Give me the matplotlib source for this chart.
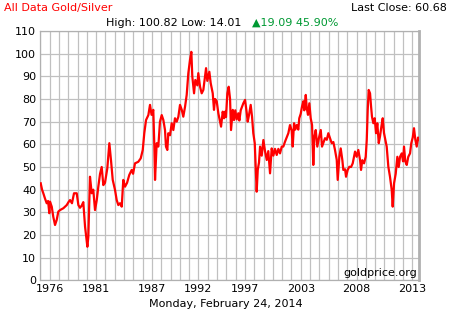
import numpy as np
import matplotlib
matplotlib.use("Agg")
import matplotlib.pyplot as plt

# gold/silver ratio (decimal year, ratio)
years = [
    1975.04, 1975.18, 1975.31, 1975.49, 1975.66, 1975.80, 1975.93, 1976.00, 1976.18, 1976.34,
    1976.52, 1976.69, 1976.86, 1977.04, 1977.38, 1977.73, 1977.91, 1978.07, 1978.27, 1978.48,
    1978.76, 1978.93, 1979.10, 1979.28, 1979.44, 1979.62, 1979.86, 1979.96, 1980.13, 1980.31,
    1980.47, 1980.65, 1980.83, 1980.99, 1981.17, 1981.34, 1981.51, 1981.68, 1981.92, 1982.13,
    1982.30, 1982.48, 1982.72, 1982.89, 1983.06, 1983.23, 1983.41, 1983.57, 1983.75, 1983.96,
    1984.19, 1984.44, 1984.58, 1984.78, 1985.12, 1985.37, 1985.58, 1985.74, 1985.92, 1986.16,
    1986.33, 1986.49, 1986.67, 1986.78, 1986.85, 1987.02, 1987.19, 1987.36, 1987.54, 1987.71,
    1987.88, 1987.98, 1988.12, 1988.22, 1988.40, 1988.57, 1988.74, 1988.91, 1989.09, 1989.26,
    1989.43, 1989.61, 1989.77, 1989.95, 1990.12, 1990.29, 1990.46, 1990.60, 1990.70, 1990.88,
    1991.01, 1991.22, 1991.32, 1991.50, 1991.67, 1991.84, 1992.01, 1992.12, 1992.25, 1992.46,
    1992.60, 1992.81, 1992.94, 1993.05, 1993.22, 1993.39, 1993.56, 1993.67, 1993.84, 1993.98,
    1994.08, 1994.18, 1994.32, 1994.46, 1994.60, 1994.70, 1994.88, 1995.01, 1995.14, 1995.29,
    1995.45, 1995.56, 1995.70, 1995.84, 1995.97, 1996.15, 1996.32, 1996.42, 1996.56, 1996.73,
    1996.87, 1997.00, 1997.15, 1997.25, 1997.35, 1997.46, 1997.59, 1997.70, 1997.87, 1998.04,
    1998.21, 1998.39, 1998.55, 1998.73, 1998.90, 1999.07, 1999.24, 1999.42, 1999.59, 1999.76,
    1999.94, 2000.10, 2000.28, 2000.45, 2000.62, 2000.79, 2000.97, 2001.07, 2001.21, 2001.34,
    2001.49, 2001.65, 2001.75, 2001.90, 2002.03, 2002.17, 2002.27, 2002.42, 2002.52, 2002.65,
    2002.79, 2002.93, 2003.07, 2003.20, 2003.30, 2003.45, 2003.61, 2003.79, 2003.97, 2004.10,
    2004.23, 2004.41, 2004.59, 2004.75, 2004.93, 2005.10, 2005.27, 2005.44, 2005.62, 2005.72,
    2005.89, 2006.03, 2006.20, 2006.30, 2006.48, 2006.58, 2006.75, 2006.92, 2007.10, 2007.27,
    2007.41, 2007.51, 2007.68, 2007.85, 2008.03, 2008.13, 2008.26, 2008.44, 2008.61, 2008.72,
    2008.82, 2008.92, 2009.06, 2009.16, 2009.26, 2009.40, 2009.54, 2009.68, 2009.81, 2009.96,
    2010.09, 2010.23, 2010.37, 2010.50, 2010.64, 2010.78, 2010.95, 2011.12, 2011.30, 2011.40,
    2011.54, 2011.71, 2011.88, 2012.02, 2012.16, 2012.33, 2012.47, 2012.57, 2012.70, 2012.85,
    2013.01, 2013.19, 2013.32, 2013.47, 2013.60, 2013.74, 2013.88, 2014.02, 2014.15,
]
ratio = [
    42.8, 40.0, 38.4, 36.0, 34.0, 35.0, 29.6, 34.7, 32.5, 28.0,
    24.4, 26.6, 30.3, 31.0, 31.8, 33.2, 34.5, 35.4, 34.0, 38.4,
    38.4, 33.2, 32.0, 33.0, 34.5, 23.7, 14.8, 19.2, 45.7, 38.4,
    40.0, 31.0, 35.4, 41.3, 47.0, 50.0, 42.0, 43.0, 49.4, 60.5,
    53.0, 44.3, 39.8, 35.4, 33.2, 34.0, 32.5, 44.3, 41.3, 43.0,
    46.5, 48.7, 47.0, 51.6, 52.3, 53.8, 57.5, 64.9, 70.7, 72.9,
    77.4, 73.0, 75.2, 59.0, 44.3, 60.5, 59.0, 70.0, 72.9, 70.7,
    66.3, 59.0, 57.5, 64.9, 64.0, 69.3, 66.3, 71.5, 70.0, 72.2,
    77.4, 75.2, 72.2, 76.6, 81.8, 91.4, 97.2, 100.8, 89.9, 82.5,
    88.4, 86.0, 91.4, 85.4, 82.5, 84.0, 89.9, 93.6, 88.0, 92.0,
    87.0, 82.5, 75.2, 80.0, 79.0, 73.7, 70.0, 67.8, 74.4, 71.5,
    74.4, 72.0, 82.5, 85.4, 80.0, 66.3, 75.2, 70.7, 75.0, 71.0,
    73.7, 70.5, 75.0, 76.6, 78.1, 79.6, 74.0, 70.0, 73.0, 77.4,
    72.2, 64.9, 60.5, 50.1, 39.1, 48.7, 52.0, 59.0, 55.0, 61.9,
    57.0, 53.1, 57.0, 47.2, 58.2, 55.0, 58.0, 55.3, 58.0, 56.0,
    59.0, 59.0, 61.2, 63.0, 64.9, 68.5, 66.0, 59.0, 69.3, 66.5,
    68.5, 66.5, 71.5, 73.5, 76.6, 79.0, 75.0, 81.8, 76.0, 73.0,
    78.1, 71.5, 68.5, 50.9, 63.0, 66.3, 59.0, 63.0, 66.3, 59.0,
    60.5, 62.7, 62.0, 64.9, 62.7, 60.5, 61.0, 57.5, 53.1, 44.3,
    54.5, 58.2, 53.0, 48.7, 49.0, 45.7, 48.7, 50.1, 50.0, 51.6,
    54.5, 56.8, 54.5, 57.5, 53.0, 48.7, 53.0, 51.6, 54.5, 61.9,
    75.2, 84.0, 82.5, 77.0, 72.2, 69.3, 71.5, 64.9, 69.3, 60.5,
    63.5, 67.8, 71.5, 65.0, 62.0, 59.0, 50.1, 45.7, 39.8, 32.5,
    42.8, 47.0, 54.5, 50.0, 54.5, 56.0, 52.5, 59.0, 52.5, 50.9,
    54.5, 56.0, 60.5, 63.0, 67.1, 62.0, 59.0, 63.0, 62.0,
]

year_labels = ["1976", "1981", "1987", "1992", "1997", "2003", "2008", "2013"]
label_lines = [1, 6, 12, 17, 22, 28, 34, 40]

x0, x1 = 1975.0, 2014.15
step = 0.9607  # spacing of the vertical grid lines

fig = plt.figure(figsize=(4.52, 3.28), dpi=100)
ax = fig.add_axes([0.0892, 0.1454, 0.8385, 0.7601])

grid_c = "#c0c0c0"
vlines = x0 + step * np.arange(41)
for v in vlines:
    ax.axvline(v, color=grid_c, lw=0.9, zorder=1)
for h in range(0, 111, 10):
    ax.axhline(h, color=grid_c, lw=0.9, zorder=1)

ax.plot(years, ratio, color="#ff0000", lw=1.6, zorder=3)

fs = 8

ax.set_xlim(x0, x1)
ax.set_ylim(0, 110)
ax.set_yticks(range(0, 111, 10))
ax.set_xticks([x0 + step * k for k in label_lines])
ax.set_xticklabels(year_labels)
ax.tick_params(length=0, labelsize=fs, pad=3)
for s in ax.spines.values():
    s.set_color("#b0b0b0")
    s.set_linewidth(0.9)
ax.spines["right"].set_linewidth(2)

fig.text(4 / 452, 1 - 8 / 328, "All Data Gold/Silver", color="#ff0000",
         fontsize=fs, va="center", ha="left")
fig.text(447 / 452, 1 - 8 / 328, "Last Close: 60.68", color="black",
         fontsize=fs, va="center", ha="right")
fig.text(106 / 452, 1 - 23 / 328, "High: 100.82 Low: 14.01", color="black",
         fontsize=fs, va="center", ha="left")
fig.text(252 / 452, 1 - 23 / 328, "\u25b219.09 45.90%", color="#009933",
         fontsize=fs, va="center", ha="left")
fig.text(417 / 452, 1 - 273 / 328, "goldprice.org", color="black",
         fontsize=fs, va="center", ha="right")
fig.text(226 / 452, 1 - 304 / 328, "Monday, February 24, 2014", color="black",
         fontsize=fs, va="center", ha="center")

fig.savefig("out.png", dpi=100, facecolor="white")
